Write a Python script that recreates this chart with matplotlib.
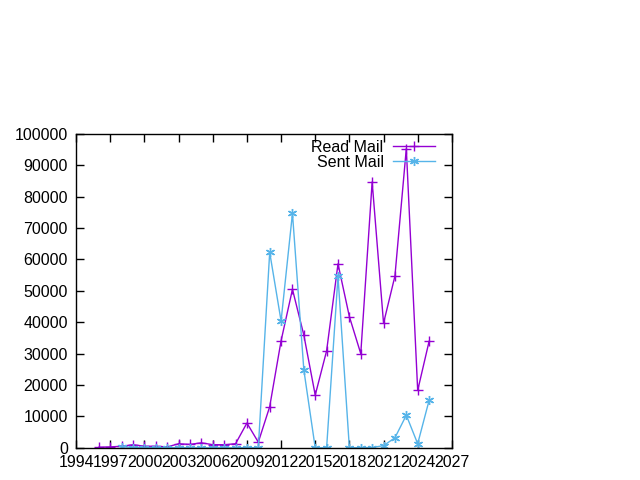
import matplotlib
matplotlib.use('Agg')
import matplotlib.pyplot as plt

plt.rcParams['font.family'] = ['Liberation Sans', 'DejaVu Sans']

# ── data ────────────────────────────────────────────────────
read_years = list(range(1996, 2026))
read_mail = [200, 300, 500, 1000, 500, 500, 300, 1300, 1100, 1600,
             1000, 1000, 1300, 7900, 1800, 13100, 34100, 50500, 35900, 16800,
             30900, 58600, 41800, 30000, 84700, 39700, 54700, 95300, 18300, 33900]

sent_years = list(range(1998, 2026))
sent_mail = [400, 100, 100, 100, 0, 100, 0, 0, 0, 0,
             0, 100, 0, 62300, 40400, 74700, 24800, 0, 0, 54600,
             0, 100, 100, 700, 3200, 10400, 1300, 15100]

x_ticks = list(range(1994, 2028, 3))
y_ticks = list(range(0, 100001, 10000))

fig = plt.figure(figsize=(6.4, 4.8), dpi=100)
ax = fig.add_axes([0.119, 0.067, 0.587, 0.654])

ax.plot(read_years, read_mail, color='#9400D3', marker='+', markersize=6.5,
        markeredgewidth=1, linewidth=1, label='Read Mail')
ax.plot(sent_years, sent_mail, color='#56B4E9', marker=(6, 2, 0), markersize=6.5,
        markeredgewidth=1, linewidth=1, label='Sent Mail')

ax.set_xlim(1994, 2027)
ax.set_ylim(0, 100000)
ax.set_xticks(x_ticks)
ax.set_yticks(y_ticks)
ax.tick_params(direction='in', length=6, width=1, top=True, right=True,
               labelsize=11.5, colors='black')
ax.tick_params(axis='y', pad=6)
ax.tick_params(axis='x', pad=5)
for s in ax.spines.values():
    s.set_linewidth(1)

ax.legend(loc='upper right', markerfirst=False, frameon=False, fontsize=11.5,
          handlelength=2.6, handletextpad=0.6, labelspacing=0.0,
          borderaxespad=0.3, bbox_to_anchor=(0.984, 1.016))

fig.savefig('out.png', dpi=100)
